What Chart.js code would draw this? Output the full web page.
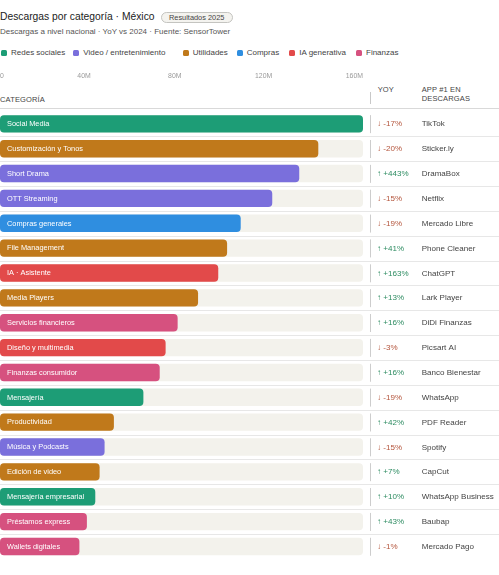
<!DOCTYPE html>
<html>
<head>
<meta charset="utf-8">
<script src="https://cdn.jsdelivr.net/npm/chart.js@4.4.1/dist/chart.umd.min.js"></script>
<style>
  html, body { margin: 0; padding: 0; background: #fff; }
  body { width: 499px; height: 575px; position: relative; overflow: hidden;
         font-family: "Liberation Sans", Arial, Helvetica, sans-serif; }
  .t { position: absolute; white-space: nowrap; }
  #title { left: 0; top: 12px; font-size: 10.3px; line-height: 10.3px; color: #222; }
  #badge { position: absolute; left: 160.7px; top: 11.7px; width: 70px; height: 9.6px;
           border: 1px solid #c4c4c0; border-radius: 6px; background: #f4f3ef;
           font-size: 7.4px; line-height: 9.6px; text-align: center; color: #444; }
  #subtitle { left: 0; top: 27.9px; font-size: 8px; line-height: 8px; color: #555; }
  .lg { position: absolute; top: 49.2px; font-size: 8px; line-height: 8px; color: #444; white-space: nowrap; }
  .lg i { position: absolute; left: 0; top: 1.2px; width: 6px; height: 6px; border-radius: 1.5px; }
  .lg span { position: absolute; left: 10px; top: 0; }
  .hd { font-size: 7.5px; line-height: 8.7px; color: #444; letter-spacing: 0.15px; }
  #hdivider { position: absolute; left: 370px; top: 91.7px; width: 1px; height: 12.3px; background: #c8c8c8; }
  #hline { position: absolute; left: 0; top: 108.3px; width: 499px; height: 1px; background: #d9d9d9; }
  #chart { position: absolute; left: 0; top: 0; }
</style>
</head>
<body>
<div class="t" id="title">Descargas por categoría · México</div>
<div id="badge">Resultados 2025</div>
<div class="t" id="subtitle">Descargas a nivel nacional · YoY vs 2024 · Fuente: SensorTower</div>
<div id="legend"></div>
<div class="t hd" style="left:0;top:96.3px">CATEGORÍA</div>
<div class="t hd" style="left:377.7px;top:86.4px">YOY</div>
<div class="t hd" style="left:421.7px;top:86.4px">APP #1 EN<br>DESCARGAS</div>
<div id="hdivider"></div>
<div id="hline"></div>
<canvas id="chart" width="499" height="575"></canvas>
<script>
// categories, downloads in millions, group index, YoY %, top app
const categories = [
  'Social Media', 'Customización y Tonos', 'Short Drama', 'OTT Streaming',
  'Compras generales', 'File Management', 'IA · Asistente', 'Media Players',
  'Servicios financieros', 'Diseño y multimedia', 'Finanzas consumidor', 'Mensajería',
  'Productividad', 'Música y Podcasts', 'Edición de video', 'Mensajería empresarial',
  'Préstamos express', 'Wallets digitales'
]
const downloads = [160, 140.3, 131.9, 120, 106.1, 100.1, 96.2, 87.3, 78.3, 73, 70.4, 63.2, 50.2, 46.1, 43.9, 42, 38.3, 35]
const groupOf = [0, 2, 1, 1, 3, 2, 4, 2, 5, 4, 5, 0, 2, 1, 2, 0, 5, 5]
const yoy = [-17, -20, 443, -15, -19, 41, 163, 13, 16, -3, 16, -19, 42, -15, 7, 10, 43, -1]
const topApp = [
  'TikTok', 'Sticker.ly', 'DramaBox', 'Netflix', 'Mercado Libre', 'Phone Cleaner',
  'ChatGPT', 'Lark Player', 'DiDi Finanzas', 'Picsart AI', 'Banco Bienestar', 'WhatsApp',
  'PDF Reader', 'Spotify', 'CapCut', 'WhatsApp Business', 'Baubap', 'Mercado Pago'
]
const groups = ['Redes sociales', 'Video / entretenimiento', 'Utilidades', 'Compras', 'IA generativa', 'Finanzas']
const groupColors = ['#1d9d76', '#7a6fdc', '#c0791b', '#2f8ee0', '#e24a4a', '#d6517f']
const xMax = 160
const xStep = 40

const FONT = '"Liberation Sans", Arial, Helvetica, sans-serif'
const legendX = [1, 73.3, 182.7, 236.7, 289.3, 356]

const legendEl = document.getElementById('legend')
groups.forEach((g, i) => {
  const d = document.createElement('div')
  d.className = 'lg'
  d.style.left = legendX[i] + 'px'
  d.innerHTML = '<i style="background:' + groupColors[i] + '"></i><span>' + g + '</span>'
  legendEl.appendChild(d)
})

const rowsPlugin = {
  id: 'rows',
  beforeDatasetsDraw(chart) {
    const { ctx, scales: { y } } = chart
    ctx.save()
    ctx.strokeStyle = '#e7e7e7'
    ctx.lineWidth = 1
    for (let i = 1; i < categories.length; i++) {
      const yy = Math.round((y.getPixelForValue(i - 1) + y.getPixelForValue(i)) / 2) + 0.5
      ctx.beginPath()
      ctx.moveTo(0, yy)
      ctx.lineTo(chart.width, yy)
      ctx.stroke()
    }
    ctx.restore()
  },
  afterDatasetsDraw(chart) {
    const { ctx, scales: { x, y } } = chart
    ctx.save()
    ctx.textBaseline = 'middle'
    ctx.textAlign = 'left'
    categories.forEach((c, i) => {
      const yy = y.getPixelForValue(i) + 0.3
      ctx.font = '7.4px ' + FONT
      ctx.fillStyle = '#fff'
      ctx.fillText(c, x.getPixelForValue(0) + 7, yy)

      ctx.strokeStyle = '#cdcdcd'
      ctx.lineWidth = 1
      ctx.beginPath()
      ctx.moveTo(370.5, yy - 9)
      ctx.lineTo(370.5, yy + 9)
      ctx.stroke()

      const up = yoy[i] > 0
      ctx.font = '8.05px ' + FONT
      ctx.fillStyle = up ? '#2e8c62' : '#b4553c'
      ctx.fillText(up ? '↑' : '↓', 377, yy)
      ctx.fillText((up ? '+' : '') + yoy[i] + '%', 383.3, yy)

      ctx.fillStyle = '#444'
      ctx.fillText(topApp[i], 421.7, yy)
    })

    // top axis labels from the x scale
    let ticks = x.ticks && x.ticks.length ? x.ticks.map(t => t.value) : []
    if (!ticks.length) for (let v = x.min; v <= x.max; v += xStep) ticks.push(v)
    ctx.font = '6.9px ' + FONT
    ctx.fillStyle = '#9a9a9a'
    ctx.textBaseline = 'alphabetic'
    ticks.forEach((v, k) => {
      const px = x.getPixelForValue(v)
      ctx.textAlign = k === 0 ? 'left' : 'right'
      ctx.fillText(v === 0 ? '0' : v + 'M', px, 77.7)
    })
    ctx.restore()
  }
}

new Chart(document.getElementById('chart'), {
  type: 'bar',
  data: {
    labels: categories,
    datasets: [
      {
        label: 'Descargas',
        data: downloads,
        backgroundColor: groupOf.map(g => groupColors[g]),
        borderRadius: 4,
        borderSkipped: false,
        barPercentage: 0.7,
        categoryPercentage: 1,
        order: 1
      },
      {
        label: 'track',
        data: categories.map(() => xMax),
        backgroundColor: '#f3f2ec',
        borderRadius: 4,
        borderSkipped: false,
        barPercentage: 0.7,
        categoryPercentage: 1,
        order: 2
      }
    ]
  },
  options: {
    indexAxis: 'y',
    responsive: false,
    animation: false,
    devicePixelRatio: 1,
    layout: { padding: { left: 0, right: 136, top: 111.4, bottom: 16.1 } },
    datasets: { bar: { grouped: false } },
    scales: {
      x: { display: false, min: 0, max: xMax, ticks: { stepSize: xStep } },
      y: { display: false }
    },
    plugins: { legend: { display: false }, tooltip: { enabled: false } }
  },
  plugins: [rowsPlugin]
})
</script>
</body>
</html>
